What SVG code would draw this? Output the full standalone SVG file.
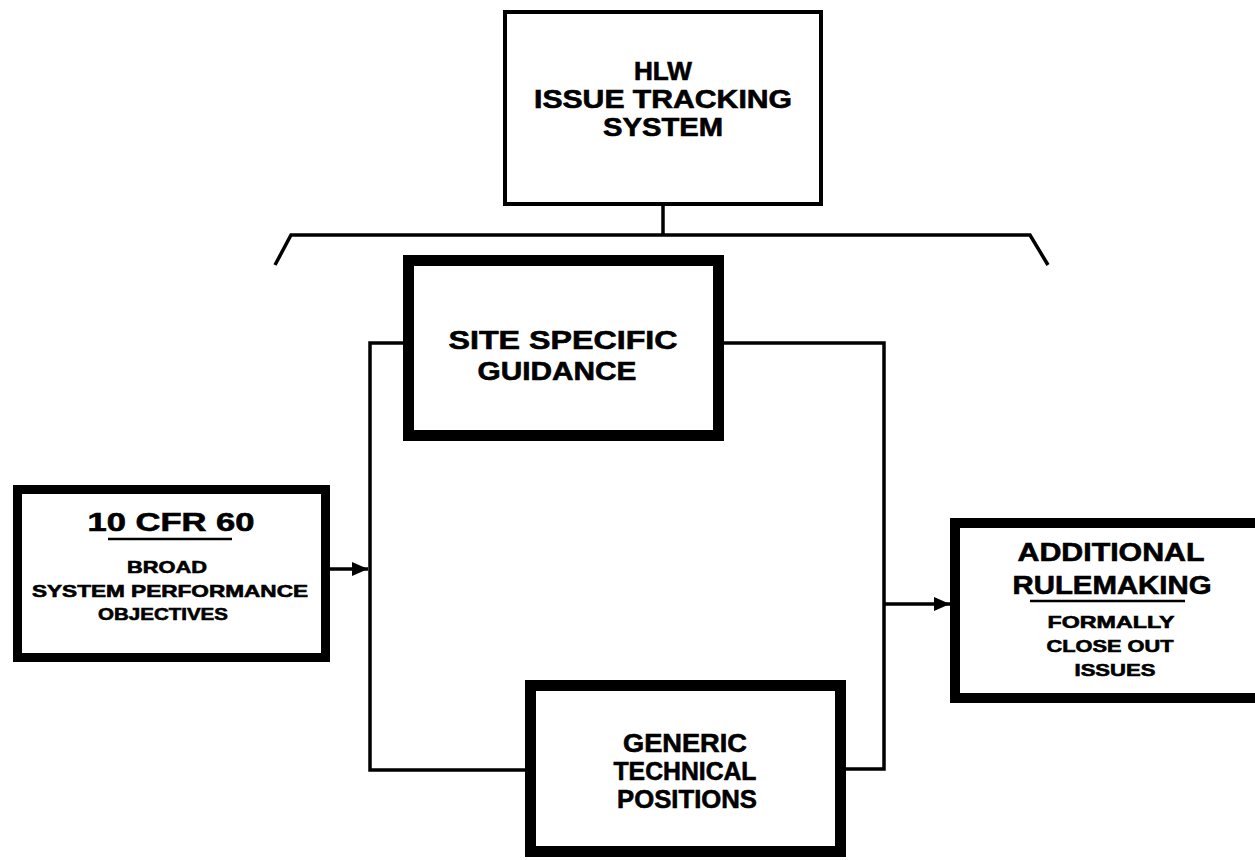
<svg xmlns="http://www.w3.org/2000/svg" width="1255" height="860" viewBox="0 0 1255 860">
<style>
.box{fill:#fff;stroke:#000;stroke-linejoin:miter}
.t{font-family:"Liberation Sans",Arial,sans-serif;font-weight:bold;fill:#000;stroke:#000;stroke-width:0.6;text-anchor:middle}
.c{fill:none;stroke:#000;stroke-width:3.5;stroke-linejoin:miter}
</style>
<defs>
<marker id="ah" markerUnits="userSpaceOnUse" markerWidth="18" markerHeight="16" refX="16" refY="8" orient="auto">
<path d="M0,1 L16,8 L0,15 Z" fill="#000"/>
</marker>
</defs>
<rect width="1255" height="860" fill="#fff"/>
<g id="connectors">
<polyline class="c" points="663,205 663,235"/>
<polyline class="c" points="275,265 291,235 1030,235 1048,265"/>
<polyline class="c" points="403,343 370,343 370,770 525,770"/>
<polyline class="c" points="724,343 884,343 884,769 846,769"/>
<line class="c" x1="330" y1="569" x2="368" y2="569" marker-end="url(#ah)"/>
<line class="c" x1="884" y1="604" x2="950" y2="604" marker-end="url(#ah)"/>
</g>
<g id="hlw">
<rect class="box" x="505" y="12" width="316" height="192" stroke-width="4"/>
<text class="t" x="663" y="80" font-size="25" textLength="58" lengthAdjust="spacingAndGlyphs">HLW</text>
<text class="t" x="663" y="108" font-size="25" textLength="258" lengthAdjust="spacingAndGlyphs">ISSUE TRACKING</text>
<text class="t" x="663" y="136" font-size="25" textLength="120" lengthAdjust="spacingAndGlyphs">SYSTEM</text>
</g>
<g id="site">
<rect class="box" x="408.5" y="260.5" width="310" height="175" stroke-width="11"/>
<text class="t" x="563" y="349" font-size="26" textLength="229" lengthAdjust="spacingAndGlyphs">SITE SPECIFIC</text>
<text class="t" x="557" y="380" font-size="26" textLength="159" lengthAdjust="spacingAndGlyphs">GUIDANCE</text>
</g>
<g id="generic">
<rect class="box" x="530.5" y="685.5" width="310" height="166" stroke-width="11"/>
<text class="t" x="685" y="752" font-size="26" textLength="124" lengthAdjust="spacingAndGlyphs">GENERIC</text>
<text class="t" x="685" y="780" font-size="26" textLength="143" lengthAdjust="spacingAndGlyphs">TECHNICAL</text>
<text class="t" x="687" y="808" font-size="26" textLength="140" lengthAdjust="spacingAndGlyphs">POSITIONS</text>
</g>
<g id="cfr">
<rect class="box" x="17.5" y="489.5" width="308" height="168" stroke-width="9"/>
<text class="t" x="171" y="531" font-size="25" textLength="167" lengthAdjust="spacingAndGlyphs">10 CFR 60</text>
<line x1="108" y1="539" x2="232" y2="539" stroke="#000" stroke-width="2.5"/>
<text class="t" x="167" y="573" font-size="17" textLength="80" lengthAdjust="spacingAndGlyphs">BROAD</text>
<text class="t" x="170" y="597" font-size="17" textLength="276" lengthAdjust="spacingAndGlyphs">SYSTEM PERFORMANCE</text>
<text class="t" x="163" y="620" font-size="17" textLength="130" lengthAdjust="spacingAndGlyphs">OBJECTIVES</text>
</g>
<g id="additional">
<rect class="box" x="955" y="523" width="320" height="175" stroke-width="10"/>
<text class="t" x="1111" y="561" font-size="25" textLength="187" lengthAdjust="spacingAndGlyphs">ADDITIONAL</text>
<text class="t" x="1112" y="594" font-size="25" textLength="199" lengthAdjust="spacingAndGlyphs">RULEMAKING</text>
<line x1="1030" y1="601" x2="1185" y2="601" stroke="#000" stroke-width="2.5"/>
<text class="t" x="1111" y="628" font-size="17" textLength="127" lengthAdjust="spacingAndGlyphs">FORMALLY</text>
<text class="t" x="1110" y="652" font-size="17" textLength="127" lengthAdjust="spacingAndGlyphs">CLOSE OUT</text>
<text class="t" x="1115" y="676" font-size="17" textLength="81" lengthAdjust="spacingAndGlyphs">ISSUES</text>
</g>
</svg>
